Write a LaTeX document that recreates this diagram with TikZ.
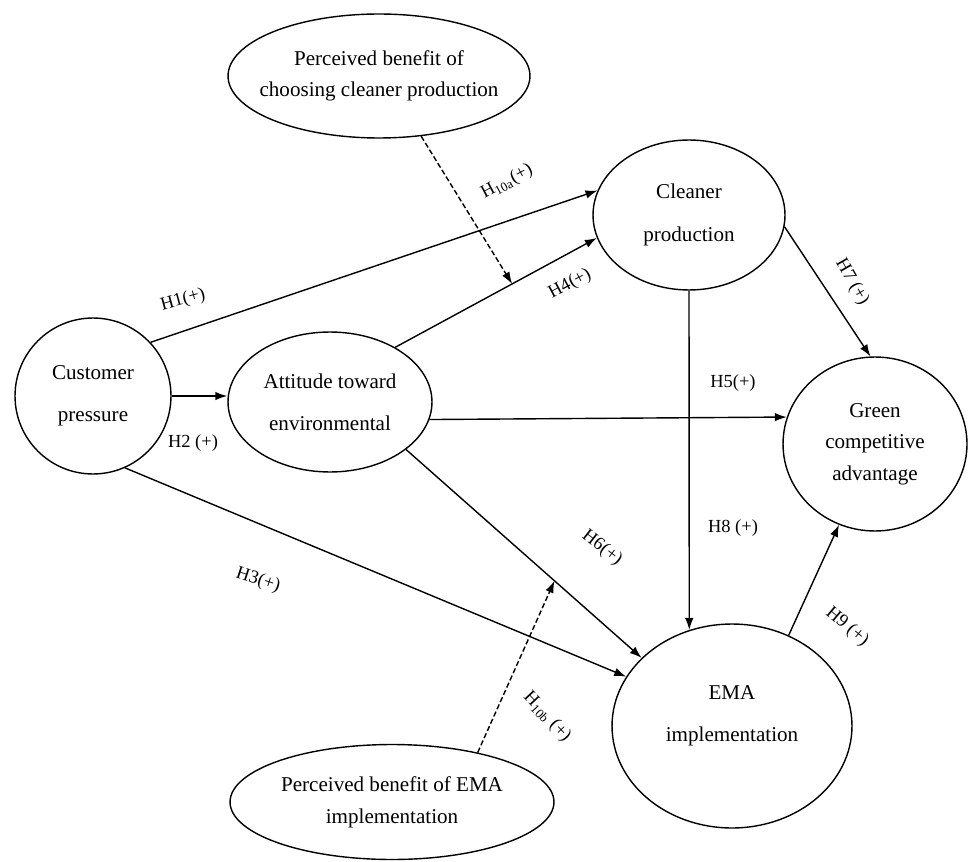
\documentclass[tikz,border=0pt]{standalone}
\usepackage{fontspec}
\setmainfont{Liberation Serif}
\usetikzlibrary{shapes.geometric,arrows.meta}
\tikzset{
        >={Latex[length=2.4mm,width=1.7mm]},
        var/.style={draw, ellipse, thick, inner sep=0pt, align=center, font=\fontsize{12}{24}\selectfont},
        mod/.style={var, font=\fontsize{12}{18}\selectfont},
        hyp/.style={inner sep=1pt, font=\fontsize{10.5}{12}\selectfont},
        link/.style={->, thick},
        cond/.style={->, thick, dash pattern=on 3pt off 1.5pt}
}

\begin{document}
\begin{tikzpicture}[x=0.02cm, y=-0.02cm]
        \useasboundingbox (0,0) rectangle (969,861);

        \node[var, minimum width=3.12cm, minimum height=3.12cm] (CP) at (93,396) {Customer\\pressure};
        \node[var, minimum width=4.08cm, minimum height=2.8cm] (ATT) at (330,402) {Attitude toward\\environmental};
        \node[var, minimum width=3.84cm, minimum height=3cm] (CL) at (689,215) {Cleaner\\production};
        \node[mod, minimum width=3.68cm, minimum height=3.48cm] (GR) at (875,444) {Green\\competitive\\advantage};
        \node[var, text depth=14pt, minimum width=4.8cm, minimum height=4.08cm] (EMA) at (732,726) {EMA\\implementation};
        \node[mod, inner xsep=-10pt, minimum width=6.04cm, minimum height=2.48cm] (PBC) at (379,76) {Perceived benefit of\\choosing cleaner production};
        \node[mod, minimum width=6.48cm, minimum height=2.3cm] (PBE) at (392,802) {Perceived benefit of EMA\\implementation};

        \draw[link] (CP.43) to (CL.165);
        \draw[link] (CP.east) to (CP.east -| ATT.west);
        \draw[link] (CP.-66) to (EMA.155);

        \draw[link] (ATT.40) to coordinate[pos=0.58] (M4) (CL.194);
        \draw[link] (ATT.-10) to (GR.163);
        \draw[link] (ATT.-32) to coordinate[pos=0.63] (M6) (EMA.143);

        \draw[link] (CL.south) to (EMA.114);
        \draw[link] (CL.-7) to (GR.93);
        \draw[link] (EMA.58) to (GR.246);

        \draw[cond] (PBC.-55) to (M4);
        \draw[cond] (PBE.30) to (M6);

        \node[hyp, rotate=15] (h1) at (183,300) {H1(+)};
        \node[hyp] (h2) at (193,443) {H2 (+)};
        \node[hyp, rotate=-18] (h3) at (258,580) {H3(+)};
        \node[hyp, rotate=28] (h4) at (570,284) {H4(+)};
        \node[hyp] (h5) at (733,383) {H5(+)};
        \node[hyp, rotate=-38] (h6) at (602,548) {H6(+)};
        \node[hyp, rotate=-60] (h7) at (852,282) {H7 (+)};
        \node[hyp] (h8) at (733,528) {H8 (+)};
        \node[hyp, rotate=-40] (h9) at (847,627) {H9 (+)};
        \node[hyp, rotate=28] (h10a) at (507,182) {H\textsubscript{10a}(+)};
        \node[hyp, rotate=-47] (h10b) at (547,717) {H\textsubscript{10b} (+)};
\end{tikzpicture}
\end{document}
